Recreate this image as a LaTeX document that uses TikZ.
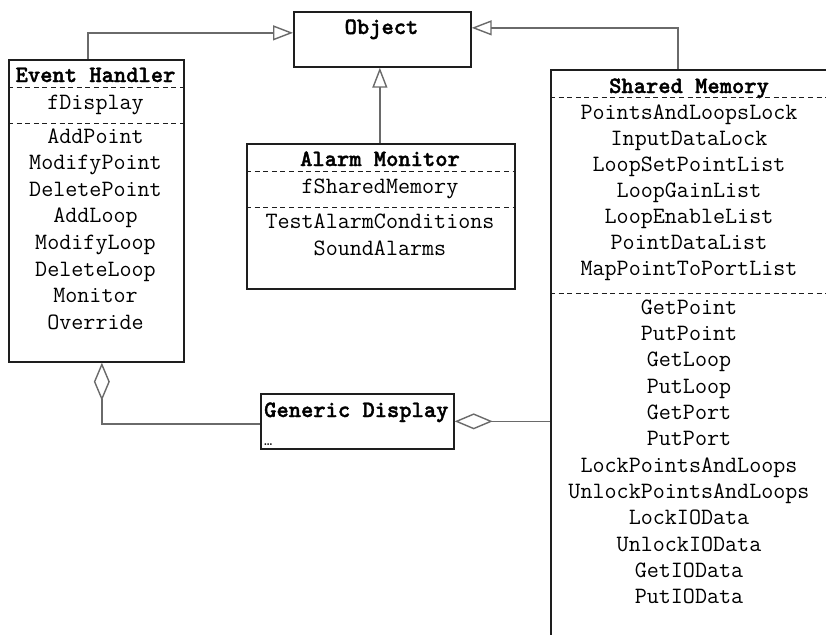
\documentclass[tikz,border=0pt]{standalone}
\usepackage{fontspec}
\newfontfamily\hdrfont{lmmonolt10-bold.otf}[FakeBold=1.6]
\usetikzlibrary{arrows.meta}
\definecolor{boxline}{HTML}{1E1E1E}
\definecolor{connline}{HTML}{6A6A6A}
\tikzset{
  classbox/.style={draw=boxline, line width=1.7pt, fill=white, rectangle, inner sep=0pt, anchor=north west},
  hdr/.style={font=\hdrfont\fontsize{23.4}{26}\selectfont, inner sep=0pt, anchor=base},
  item/.style={font=\ttfamily\fontsize{23.4}{26}\selectfont, inner sep=0pt, anchor=base, text=black},
  sep/.style={draw=boxline, line width=1pt, dash pattern=on 5pt off 3.6pt},
  conn/.style={draw=connline, line width=1.4pt},
  gen/.style={-{Triangle[open, length=20pt, width=15pt]}},
  agg/.style={{Diamond[open, length=38pt, width=16pt]}-}
}
\begin{document}
\begin{tikzpicture}[x=1pt, y=-1pt]
\useasboundingbox (0,0) rectangle (826,634);
\clip (0,0) rectangle (826,634);
\fill[white] (0,0) rectangle (826,634);

% Object
\node[classbox, minimum width=177pt, minimum height=55pt] (obj) at (293,11) {};
\node[hdr] (objT) at (381.5,34) {Object};

% Event Handler
\node[classbox, minimum width=175pt, minimum height=302pt] (eh) at (8,59) {};
\node[hdr] (ehT) at (95.5,82) {Event Handler};
\draw[sep] (8,87) -- (183,87);
\node[item] (ehA) at (95.5,109) {fDisplay};
\draw[sep] (8,123) -- (183,123);
\foreach \t [count=\i] in {AddPoint,ModifyPoint,DeletePoint,AddLoop,ModifyLoop,DeleteLoop,Monitor,Override}
  \node[item] (ehM\i) at (95.5,116.4+26.6*\i) {\t};

% Alarm Monitor
\node[classbox, minimum width=268pt, minimum height=145pt] (am) at (246,143) {};
\node[hdr] (amT) at (380,166) {Alarm Monitor};
\draw[sep] (246,171) -- (514,171);
\node[item] (amA) at (380,193) {fSharedMemory};
\draw[sep] (246,207) -- (514,207);
\node[item] (amM1) at (380,228) {TestAlarmConditions};
\node[item] (amM2) at (380,255) {SoundAlarms};

% Generic Display
\node[classbox, minimum width=193pt, minimum height=55pt] (gd) at (260,393) {};
\node[hdr, anchor=base west] (gdT) at (264,417) {Generic Display};
\node[item, anchor=base west, font=\ttfamily\fontsize{16}{18}\selectfont] (gdA) at (264,445) {…};

% Shared Memory
\node[classbox, minimum width=278pt, minimum height=640pt] (sm) at (550,69) {};
\node[hdr] (smT) at (689,93) {Shared Memory};
\draw[sep] (550,97) -- (830,97);
\foreach \t [count=\i] in {PointsAndLoopsLock,InputDataLock,LoopSetPointList,LoopGainList,LoopEnableList,PointDataList,MapPointToPortList}
  \node[item] (smA\i) at (689,92.85+26.15*\i) {\t};
\draw[sep] (550,293) -- (830,293);
\foreach \t [count=\i] in {GetPoint,PutPoint,GetLoop,PutLoop,GetPort,PutPort,LockPointsAndLoops,UnlockPointsAndLoops,LockIOData,UnlockIOData,GetIOData,PutIOData}
  \node[item] (smM\i) at (689,287.64+26.36*\i) {\t};

% Connectors
\draw[conn, gen] ([xshift=-8.5pt]eh.north) |- ([yshift=6.5pt]obj.west);
\draw[conn, gen] ([xshift=-1pt]am.north) -- ([xshift=-1pt]am.north |- obj.south);
\draw[conn, gen] ([xshift=-12pt]sm.north) |- ([yshift=11.5pt]obj.east);
\draw[conn, agg] ([xshift=5.5pt]eh.south) |- ([yshift=-2.5pt]gd.west);
\draw[conn, agg] (gd.east) -- (gd.east -| sm.west);
\end{tikzpicture}
\end{document}
